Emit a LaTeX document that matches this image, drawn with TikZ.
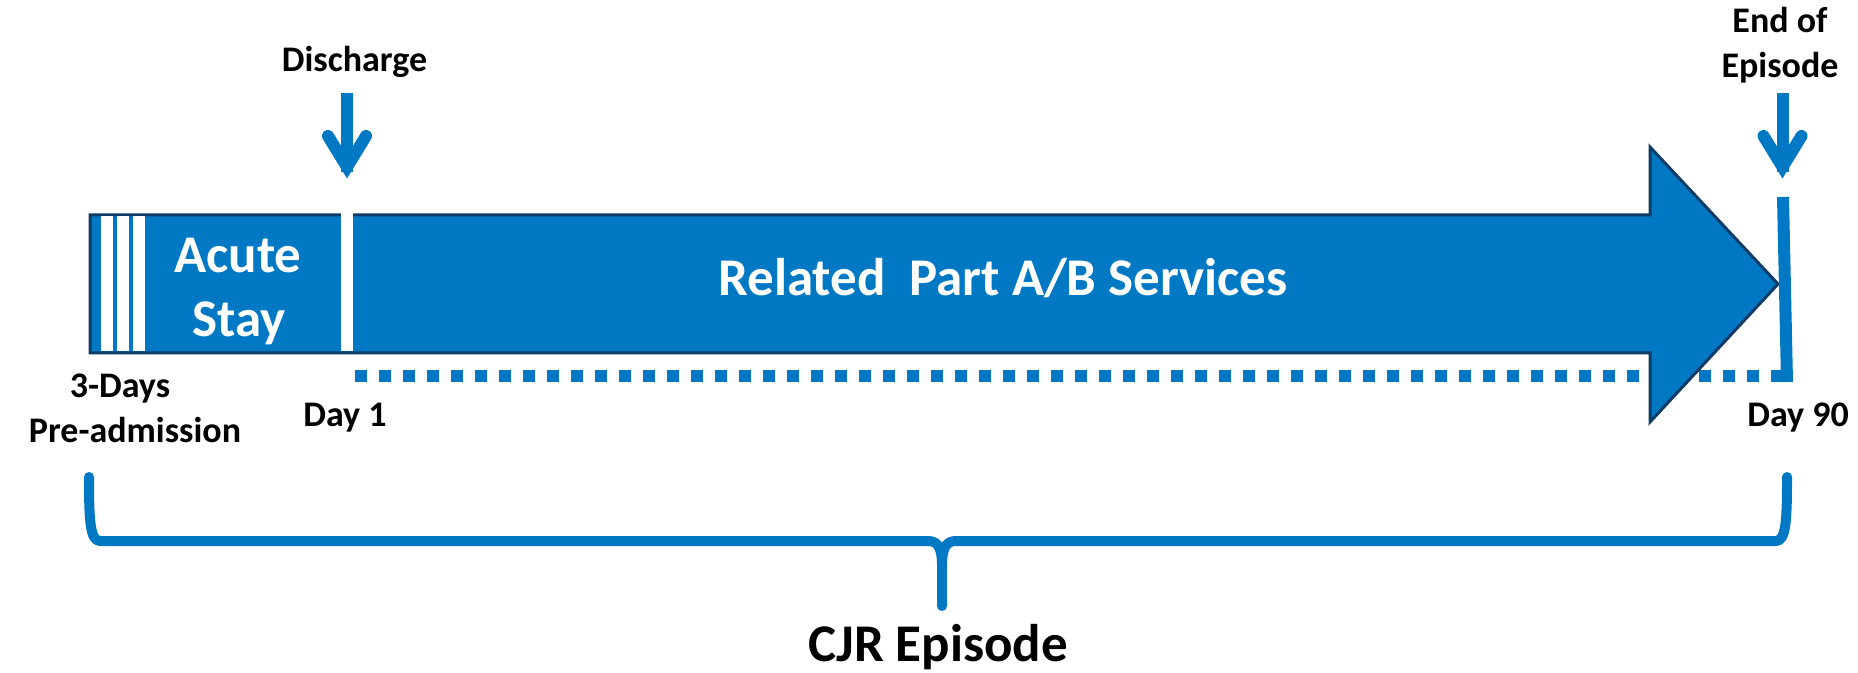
\documentclass[tikz,border=0pt]{standalone}
\usepackage{fontspec}
\setmainfont{Carlito}
\usetikzlibrary{calc}
\definecolor{cjrblue}{RGB}{0,120,196}
\definecolor{cjredge}{RGB}{14,60,102}

\begin{document}
\begin{tikzpicture}[x=0.5pt,y=-0.5pt,
  lbl/.style={font=\bfseries\fontsize{18}{21}\selectfont, inner sep=0pt, text=black},
  big/.style={font=\bfseries\fontsize{26.5}{32}\selectfont, inner sep=0pt, text=white},
  title/.style={font=\bfseries\fontsize{26.5}{32}\selectfont, inner sep=0pt, text=black},
  pointer/.style={draw=cjrblue, line width=6pt},
  pointerhead/.style={draw=cjrblue, line width=6pt, line cap=round, line join=miter},
  dotline/.style={draw=cjrblue, line width=6pt, dash pattern=on 6pt off 6pt},
  bigarrow/.style={fill=cjrblue, draw=cjredge, line width=1.5pt, line join=miter},
  stripe/.style={fill=white},
  endline/.style={draw=cjrblue, line width=6pt},
  bracepath/.style={draw=cjrblue, line width=5pt, line cap=round, line join=round}
]
\useasboundingbox (0,0) rectangle (1858,673);

% dotted timeline from Day 1 to Day 90
\coordinate (d1) at (355,376);
\coordinate (d90) at (1783,376);
\draw[dotline] (d1) -- (d90);

% main arrow of the episode
\filldraw[bigarrow] (90,215) -- (1650,215) -- (1650,147) -- (1778,284)
  -- (1650,422) -- (1650,353) -- (90,353) -- cycle;

% three pre-admission day stripes
\fill[stripe] (100.5,216.5) rectangle (112.5,351.5);
\fill[stripe] (116.5,216.5) rectangle (128.5,351.5);
\fill[stripe] (132.5,216.5) rectangle (144.5,351.5);
% discharge divider
\fill[stripe] (341,213) rectangle (353,351);

% end-of-episode marker line
\coordinate (e1) at (1783,197);
\coordinate (e2) at (1787,382);
\draw[endline] (e1) -- (e2);

% texts inside the arrow
\node[big, anchor=base] (acute1) at (238,273) {Acute};
\node[big, anchor=base] (acute2) at (239,337) {Stay};
\node[big, anchor=base] (rel) at (1003,296) {Related~~Part A/B Services};

% labels above
\node[lbl, anchor=base] (dis) at (354.5,72) {Discharge};
\node[lbl, anchor=base] (eoe1) at (1780,33) {End of};
\node[lbl, anchor=base] (eoe2) at (1780,78) {Episode};

% labels below
\node[lbl, anchor=base] (pre1) at (120,398) {3-Days};
\node[lbl, anchor=base] (pre2) at (135,443) {Pre-admission};
\node[lbl, anchor=base west] (day1) at (303,427) {Day 1};
\node[lbl, anchor=base west] (day90) at (1747,427) {Day 90};

% discharge pointer
\coordinate (dtop) at (347,93);
\coordinate (dshaft) at (347,172);
\coordinate (dtip) at (347,167);
\draw[pointer] (dtop) -- (dshaft);
\draw[pointerhead] ($(dtip)+(-19,-31)$) -- (dtip) -- ($(dtip)+(19,-31)$);

% end-of-episode pointer
\coordinate (etop) at (1782.5,93);
\coordinate (eshaft) at (1782.5,172);
\coordinate (etip) at (1782.5,167);
\draw[pointer] (etop) -- (eshaft);
\draw[pointerhead] ($(etip)+(-19,-31)$) -- (etip) -- ($(etip)+(19,-31)$);

% brace under the timeline
\coordinate (bl) at (89,477);
\coordinate (br) at (1787,477);
\coordinate (bm) at (942,606);
\draw[bracepath] (bl) .. controls (89,520) and (90,541) .. (100,541) -- (928,541)
  .. controls (938,541) and (942,548) .. (942,566) -- (bm);
\draw[bracepath] (br) .. controls (1787,520) and (1786,541) .. (1776,541) -- (956,541)
  .. controls (946,541) and (942,548) .. (942,566);

\node[title, anchor=base] (cjr) at (938,661) {CJR Episode};
\end{tikzpicture}
\end{document}
